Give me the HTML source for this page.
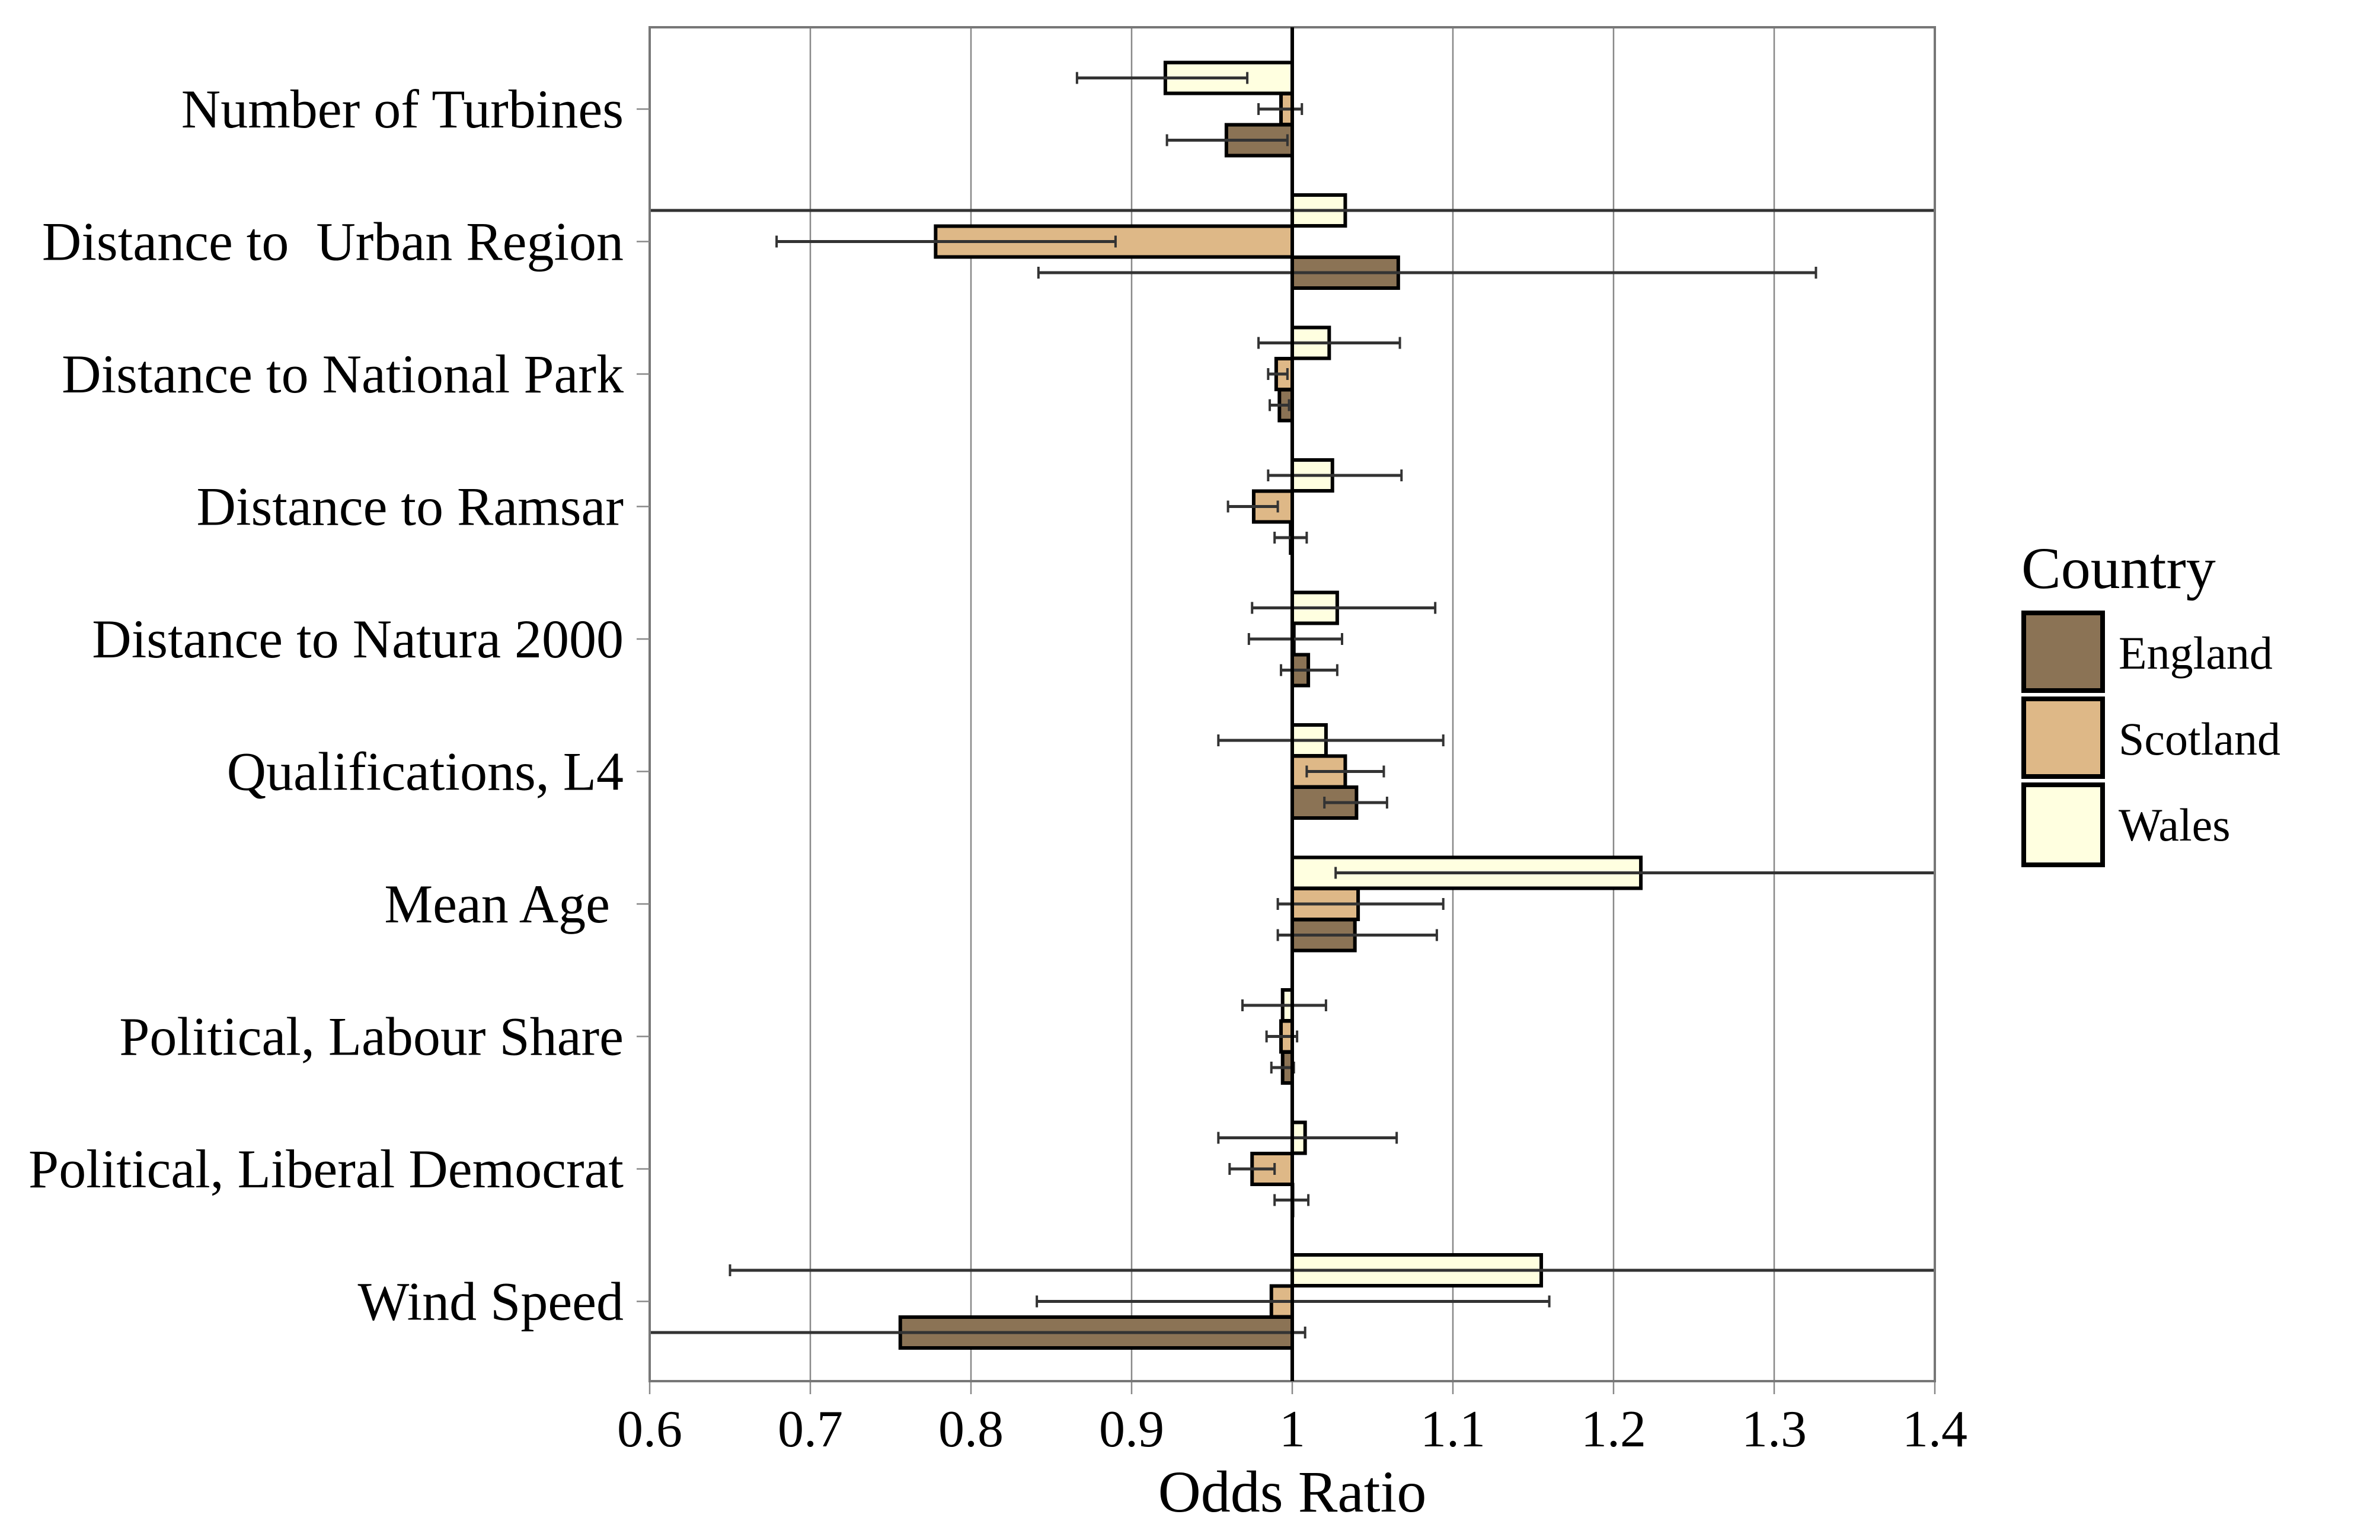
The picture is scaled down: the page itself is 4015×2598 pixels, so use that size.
<!DOCTYPE html>
<html><head><meta charset="utf-8"><style>
html,body{margin:0;padding:0;background:#fff;}
svg{display:block;font-family:"Liberation Serif",serif;}
text{white-space:pre;}
</style></head><body>
<svg id="chart" width="4015" height="2598" viewBox="0 0 4015 2598" xmlns="http://www.w3.org/2000/svg">
<defs><clipPath id="plotclip"><rect x="1096" y="46" width="2168" height="2284"/></clipPath></defs>
<rect x="0" y="0" width="4015" height="2598" fill="#fff"/>
<g id="grid"></g>
<g id="marks" clip-path="url(#plotclip)"></g>
<g id="axes"></g>
<text x="2180" y="2550" font-size="100" text-anchor="middle">Odds Ratio</text>
<g>
<text x="3410" y="992" font-size="100">Country</text>
<rect x="3414" y="1034" width="133" height="131" fill="#8B7355" stroke="#000" stroke-width="8"/>
<text x="3574" y="1128" font-size="78">England</text>
<rect x="3414" y="1179" width="133" height="131" fill="#DEB887" stroke="#000" stroke-width="8"/>
<text x="3574" y="1273" font-size="78">Scotland</text>
<rect x="3414" y="1324" width="133" height="135" fill="#FFFFE0" stroke="#000" stroke-width="8"/>
<text x="3574" y="1418" font-size="78">Wales</text>
</g>
</svg>
<script>
const categories = ["Number of Turbines","Distance to  Urban Region","Distance to National Park","Distance to Ramsar","Distance to Natura 2000","Qualifications, L4","Mean Age ","Political, Labour Share","Political, Liberal Democrat","Wind Speed"];
const walesValues = [0.921,1.033,1.023,1.025,1.028,1.021,1.217,0.994,1.008,1.155];
const walesLow = [0.866,0.50,0.979,0.985,0.975,0.954,1.027,0.969,0.954,0.65];
const walesHigh = [0.972,1.50,1.067,1.068,1.089,1.094,1.45,1.021,1.065,1.45];
const scotlandValues = [0.993,0.778,0.990,0.976,1.001,1.033,1.041,0.993,0.975,0.987];
const scotlandLow = [0.979,0.679,0.985,0.960,0.973,1.009,0.991,0.984,0.961,0.841];
const scotlandHigh = [1.006,0.890,0.997,0.991,1.031,1.057,1.094,1.003,0.989,1.160];
const englandValues = [0.959,1.066,0.992,0.999,1.010,1.040,1.039,0.994,1.000,0.756];
const englandLow = [0.922,0.842,0.986,0.989,0.993,1.020,0.991,0.987,0.989,0.55];
const englandHigh = [0.997,1.326,0.998,1.009,1.028,1.059,1.090,1.001,1.010,1.008];
const xTicks = [0.6,0.7,0.8,0.9,1,1.1,1.2,1.3,1.4];
const xTickLabels = ["0.6","0.7","0.8","0.9","1","1.1","1.2","1.3","1.4"];

const NS="http://www.w3.org/2000/svg";
const X0=1096,X1=3264,Y0=46,Y1=2330,VMIN=0.6,VMAX=1.4;
function xs(v){return X0+(v-VMIN)/(VMAX-VMIN)*(X1-X0);}
function yc(i){return 184+223.5*i;}
function mk(tag,attrs,parent){const e=document.createElementNS(NS,tag);for(const k in attrs)e.setAttribute(k,attrs[k]);parent.appendChild(e);return e;}
const grid=document.getElementById('grid'),marks=document.getElementById('marks'),axes=document.getElementById('axes');
xTicks.forEach((t,i)=>{
  const l=mk('line',{x1:xs(t),x2:xs(t),y1:Y0,y2:Y1,stroke:'#888',"stroke-width":2.5},grid);
  
  
  const tk=mk('line',{x1:xs(t),x2:xs(t),y1:Y1,y2:Y1+22,stroke:'#888',"stroke-width":2.5},axes);
  
  
  const tx=mk('text',{x:xs(t),y:2440,"font-size":88,"text-anchor":"middle"},axes);
  tx.textContent=xTickLabels[i];
  
  
});
const border=mk('rect',{x:X0,y:Y0,width:X1-X0,height:Y1-Y0,fill:'none',stroke:'#777',"stroke-width":4},axes);


const series=[
  {name:'wales',vals:walesValues,lo:walesLow,hi:walesHigh,fill:'#FFFFE0',off:-52.5},
  {name:'scotland',vals:scotlandValues,lo:scotlandLow,hi:scotlandHigh,fill:'#DEB887',off:0},
  {name:'england',vals:englandValues,lo:englandLow,hi:englandHigh,fill:'#8B7355',off:52.5}
];
const BH=52;
categories.forEach((c,i)=>{
  const tk=mk('line',{x1:X0-22,x2:X0,y1:yc(i),y2:yc(i),stroke:'#888',"stroke-width":2.5},axes);
  
  
  const tx=mk('text',{x:1052,y:yc(i)+31,"font-size":92,"text-anchor":"end"},axes);
  tx.textContent=c;
  
  
});
series.forEach(s=>{
  s.vals.forEach((v,i)=>{
    const cy=yc(i)+s.off;
    const a=Math.min(xs(v),xs(1)),b=Math.max(xs(v),xs(1));
    const r=mk('rect',{x:a,y:cy-BH/2,width:Math.max(b-a,0.5),height:BH,fill:s.fill,stroke:'#000',"stroke-width":6},marks);
    
    
  });
});
series.forEach(s=>{
  s.vals.forEach((v,i)=>{
    const cy=yc(i)+s.off;
    const l=mk('line',{x1:xs(s.lo[i]),x2:xs(s.hi[i]),y1:cy,y2:cy,stroke:'#333',"stroke-width":5},marks);
    
    
    [s.lo[i],s.hi[i]].forEach(e=>{
      const cp=mk('line',{x1:xs(e),x2:xs(e),y1:cy-10,y2:cy+10,stroke:'#333',"stroke-width":4},marks);
      
      
    });
  });
});
const ref=mk('line',{x1:xs(1),x2:xs(1),y1:Y0,y2:Y1,stroke:'#000',"stroke-width":6},axes);


</script>
</body></html>
